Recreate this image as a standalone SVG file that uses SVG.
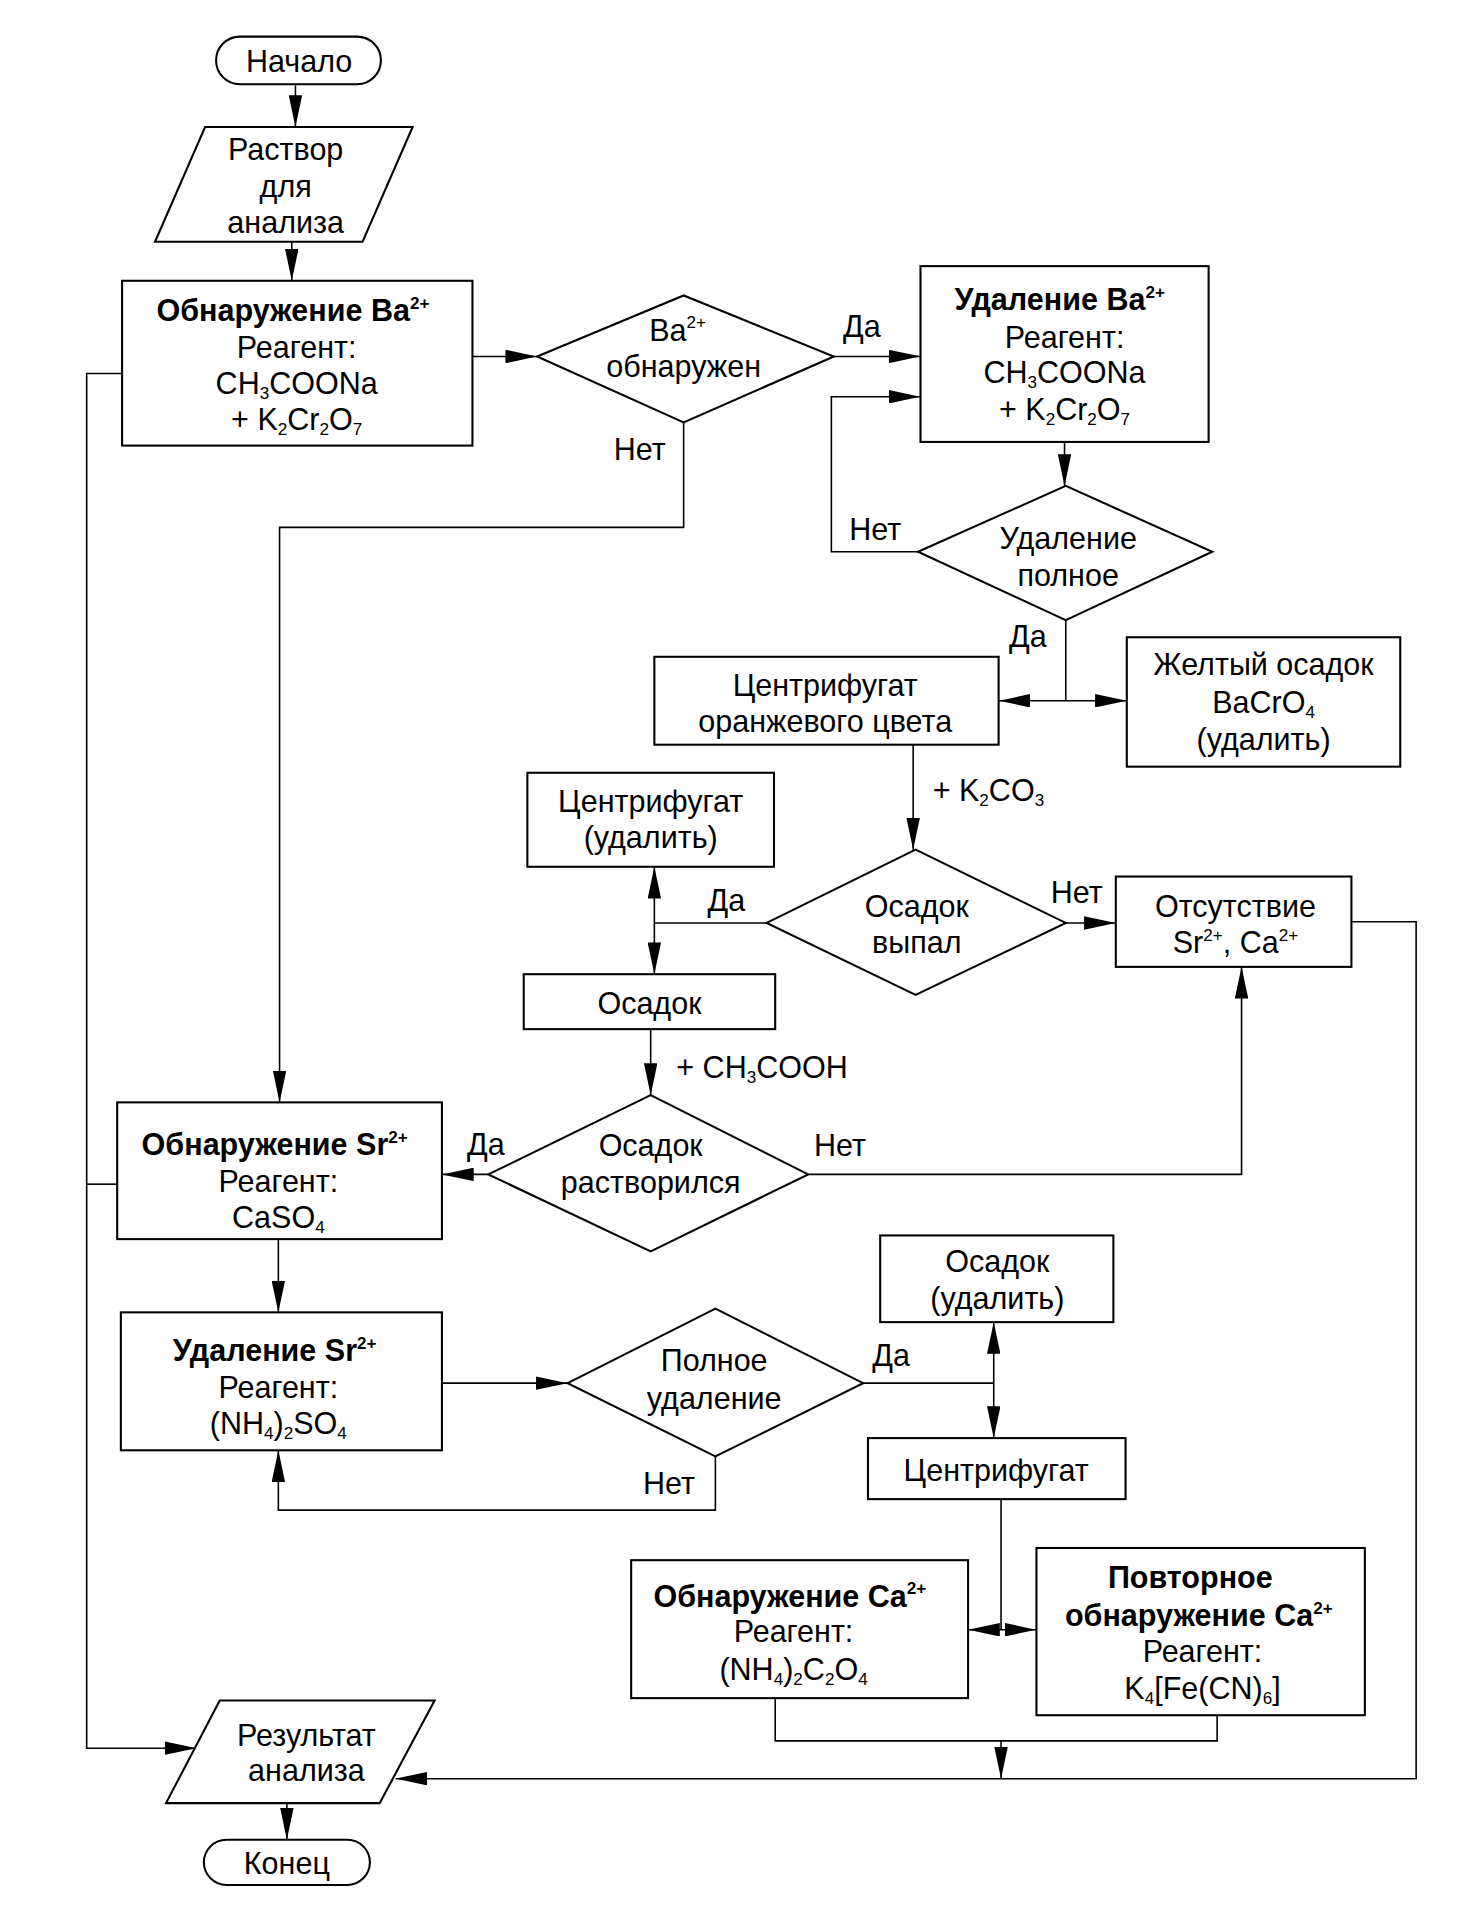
<svg xmlns="http://www.w3.org/2000/svg" width="1465" height="1909" viewBox="0 0 1465 1909">
<style>
.s{fill:#fff;stroke:#000;stroke-width:1.7}
.c{fill:none;stroke:#000;stroke-width:1.3}
.a{marker-end:url(#ah)}
text{font-family:"Liberation Sans",Arial,Helvetica,sans-serif;font-size:25px;fill:#000;text-anchor:middle}
.l{text-anchor:start}
.b{font-weight:bold}
.sb{font-size:14px}
.sp{font-size:14px}
</style>
<defs>
<marker id="ah" markerUnits="userSpaceOnUse" markerWidth="26" markerHeight="11" refX="26" refY="5.5" orient="auto">
<path d="M0,0 L26,5.5 L0,11 z" fill="#000"/>
</marker>
</defs>
<rect width="1465" height="1909" fill="#fff"/>
<g transform="scale(1.2208)">
<g id="connectors">
<path class="c a" d="M242,70 V104"/>
<path class="c a" d="M239,198 V230"/>
<path class="c a" d="M387,292 H440"/>
<path class="c a" d="M683,292 H754"/>
<path class="c a" d="M560,346 V432 H229 V903"/>
<path class="c a" d="M872,362 V398"/>
<path class="c a" d="M752,452 H681 V325 H754"/>
<path class="c" d="M873,508 V574"/>
<path class="c a" d="M873,574 H818"/>
<path class="c a" d="M873,574 H923"/>
<path class="c a" d="M748,610 V696"/>
<path class="c" d="M628,756 H536"/>
<path class="c a" d="M536,756 V710"/>
<path class="c a" d="M536,756 V798"/>
<path class="c a" d="M873,756 H914"/>
<path class="c a" d="M1107,755 H1160 V1457 H324"/>
<path class="c a" d="M533,843 V897"/>
<path class="c a" d="M400,962 H362"/>
<path class="c a" d="M662,962 H1017 V792"/>
<path class="c a" d="M100,306 H71 V1432 H161"/>
<path class="c" d="M96,970 H71"/>
<path class="c a" d="M228,1015 V1075"/>
<path class="c a" d="M362,1133 H465"/>
<path class="c a" d="M586,1193 V1237 H228 V1188"/>
<path class="c" d="M707,1133 H814"/>
<path class="c a" d="M814,1133 V1083"/>
<path class="c a" d="M814,1133 V1178"/>
<path class="c" d="M820,1228 V1335"/>
<path class="c a" d="M820,1335 H793"/>
<path class="c a" d="M820,1335 H849"/>
<path class="c" d="M635,1391 V1426 H997 V1405"/>
<path class="c a" d="M820,1426 V1457"/>
<path class="c a" d="M235,1477 V1507"/>
</g>
<g id="labels">
<text x="706" y="276">Да</text>
<text x="524" y="377">Нет</text>
<text x="717" y="442">Нет</text>
<text x="842" y="530">Да</text>
<text class="l" x="764" y="656">+ K<tspan class="sb" dy="4">2</tspan><tspan dy="-4">CO</tspan><tspan class="sb" dy="4">3</tspan></text>
<text x="595" y="746">Да</text>
<text x="882" y="740">Нет</text>
<text class="l" x="554" y="883">+ CH<tspan class="sb" dy="4">3</tspan><tspan dy="-4">COOH</tspan></text>
<text x="398" y="946">Да</text>
<text x="688" y="947">Нет</text>
<text x="548" y="1224">Нет</text>
<text x="730" y="1119">Да</text>
</g>
<g id="start">
<rect class="s" x="177" y="30" width="135" height="39" rx="19.5"/>
<text x="245" y="59">Начало</text>
</g>
<g id="input">
<polygon class="s" points="168,104 338,104 297,198 127,198"/>
<text x="234" y="131">Раствор</text>
<text x="234" y="161">для</text>
<text x="234" y="191">анализа</text>
</g>
<g id="detect-ba">
<rect class="s" x="100" y="230" width="287" height="135"/>
<text class="b" x="240" y="263">Обнаружение Ba<tspan class="sp" dy="-10">2+</tspan></text>
<text x="243" y="293">Реагент:</text>
<text x="243" y="323">CH<tspan class="sb" dy="4">3</tspan><tspan dy="-4">COONa</tspan></text>
<text x="243" y="352">+ K<tspan class="sb" dy="4">2</tspan><tspan dy="-4">Cr</tspan><tspan class="sb" dy="4">2</tspan><tspan dy="-4">O</tspan><tspan class="sb" dy="4">7</tspan></text>
</g>
<g id="ba-found">
<polygon class="s" points="440,292 560,242 683,292 560,346"/>
<text x="555" y="279">Ba<tspan class="sp" dy="-10">2+</tspan></text>
<text x="560" y="309">обнаружен</text>
</g>
<g id="remove-ba">
<rect class="s" x="754" y="218" width="236" height="144"/>
<text class="b" x="868" y="254">Удаление Ba<tspan class="sp" dy="-10">2+</tspan></text>
<text x="872" y="285">Реагент:</text>
<text x="872" y="314">CH<tspan class="sb" dy="4">3</tspan><tspan dy="-4">COONa</tspan></text>
<text x="872" y="344">+ K<tspan class="sb" dy="4">2</tspan><tspan dy="-4">Cr</tspan><tspan class="sb" dy="4">2</tspan><tspan dy="-4">O</tspan><tspan class="sb" dy="4">7</tspan></text>
</g>
<g id="removal-complete">
<polygon class="s" points="752,452 873,398 993,452 873,508"/>
<text x="875" y="450">Удаление</text>
<text x="875" y="480">полное</text>
</g>
<g id="orange-centrifugate">
<rect class="s" x="536" y="538" width="282" height="72"/>
<text x="676" y="570">Центрифугат</text>
<text x="676" y="600">оранжевого цвета</text>
</g>
<g id="yellow-precipitate">
<rect class="s" x="923" y="522" width="224" height="106"/>
<text x="1035" y="553">Желтый осадок</text>
<text x="1035" y="584">BaCrO<tspan class="sb" dy="4">4</tspan></text>
<text x="1035" y="614">(удалить)</text>
</g>
<g id="precipitate-formed">
<polygon class="s" points="628,756 750,696 873,756 750,815"/>
<text x="751" y="751">Осадок</text>
<text x="751" y="781">выпал</text>
</g>
<g id="centrifugate-remove">
<rect class="s" x="432" y="633" width="202" height="77"/>
<text x="533" y="665">Центрифугат</text>
<text x="533" y="695">(удалить)</text>
</g>
<g id="precipitate">
<rect class="s" x="429" y="798" width="206" height="45"/>
<text x="532" y="831">Осадок</text>
</g>
<g id="absence">
<rect class="s" x="914" y="718" width="193" height="74"/>
<text x="1012" y="751">Отсутствие</text>
<text x="1012" y="781">Sr<tspan class="sp" dy="-10">2+</tspan><tspan dy="10">, Ca</tspan><tspan class="sp" dy="-10">2+</tspan></text>
</g>
<g id="dissolved">
<polygon class="s" points="400,962 533,897 662,962 533,1025"/>
<text x="533" y="947">Осадок</text>
<text x="533" y="977">растворился</text>
</g>
<g id="detect-sr">
<rect class="s" x="96" y="903" width="266" height="112"/>
<text class="b" x="225" y="946">Обнаружение Sr<tspan class="sp" dy="-10">2+</tspan></text>
<text x="228" y="976">Реагент:</text>
<text x="228" y="1006">CaSO<tspan class="sb" dy="4">4</tspan></text>
</g>
<g id="remove-sr">
<rect class="s" x="99" y="1075" width="263" height="113"/>
<text class="b" x="225" y="1115">Удаление Sr<tspan class="sp" dy="-10">2+</tspan></text>
<text x="228" y="1145">Реагент:</text>
<text x="228" y="1175">(NH<tspan class="sb" dy="4">4</tspan><tspan dy="-4">)</tspan><tspan class="sb" dy="4">2</tspan><tspan dy="-4">SO</tspan><tspan class="sb" dy="4">4</tspan></text>
</g>
<g id="full-removal">
<polygon class="s" points="465,1133 586,1072 707,1133 586,1193"/>
<text x="585" y="1123">Полное</text>
<text x="585" y="1154">удаление</text>
</g>
<g id="precipitate-remove">
<rect class="s" x="721" y="1012" width="191" height="71"/>
<text x="817" y="1042">Осадок</text>
<text x="817" y="1072">(удалить)</text>
</g>
<g id="centrifugate">
<rect class="s" x="711" y="1178" width="211" height="50"/>
<text x="816" y="1213">Центрифугат</text>
</g>
<g id="detect-ca">
<rect class="s" x="517" y="1278" width="276" height="113"/>
<text class="b" x="647" y="1316">Обнаружение Ca<tspan class="sp" dy="-10">2+</tspan></text>
<text x="650" y="1345">Реагент:</text>
<text x="650" y="1376">(NH<tspan class="sb" dy="4">4</tspan><tspan dy="-4">)</tspan><tspan class="sb" dy="4">2</tspan><tspan dy="-4">C</tspan><tspan class="sb" dy="4">2</tspan><tspan dy="-4">O</tspan><tspan class="sb" dy="4">4</tspan></text>
</g>
<g id="redetect-ca">
<rect class="s" x="849" y="1268" width="269" height="137"/>
<text class="b" x="975" y="1301">Повторное</text>
<text class="b" x="982" y="1332">обнаружение Ca<tspan class="sp" dy="-10">2+</tspan></text>
<text x="985" y="1361">Реагент:</text>
<text x="985" y="1392">K<tspan class="sb" dy="4">4</tspan><tspan dy="-4">[Fe(CN)</tspan><tspan class="sb" dy="4">6</tspan><tspan dy="-4">]</tspan></text>
</g>
<g id="result">
<polygon class="s" points="180,1393 356,1393 311,1477 136,1477"/>
<text x="251" y="1430">Результат</text>
<text x="251" y="1459">анализа</text>
</g>
<g id="end">
<rect class="s" x="167" y="1507" width="136" height="37" rx="18.5"/>
<text x="235" y="1535">Конец</text>
</g>
</g>
</svg>
